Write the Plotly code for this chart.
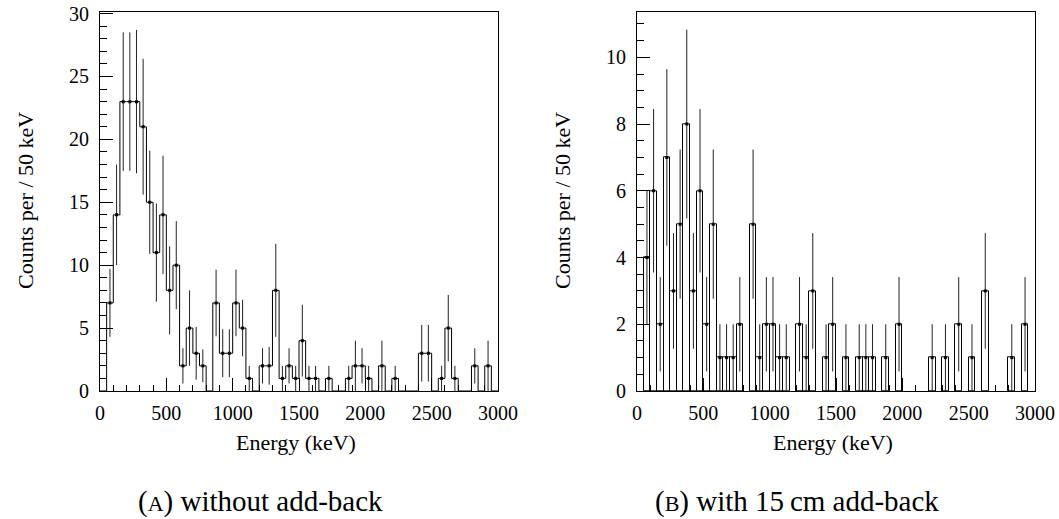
import numpy as np
import plotly.graph_objects as go

# ---------------- data (50 keV bins from 0 to 3000 keV) ----------------
bin_width = 50
n_bins = 60

# (A) without add-back: counts per bin
counts_a = [0, 7, 14, 23, 23, 23, 21, 15, 11, 14,
            8, 10, 2, 5, 3, 2, 0, 7, 3, 3,
            7, 5, 1, 0, 2, 2, 8, 1, 2, 1,
            4, 1, 1, 0, 1, 0, 0, 1, 2, 2,
            1, 0, 2, 0, 1, 0, 0, 0, 3, 3,
            0, 1, 5, 1, 0, 0, 2, 0, 2, 0]
# (A) error bar half-lengths
errors_a = [0, 2.7, 4.0, 5.5, 5.5, 5.7, 5.4, 4.1, 3.9, 4.7,
            3.5, 3.5, 1.4, 3.0, 2.1, 1.3, 0, 2.65, 1.9, 1.9,
            2.65, 2.25, 1.0, 0, 1.4, 1.5, 3.7, 1.0, 1.4, 1.0,
            2.85, 1.0, 1.0, 0, 1.0, 0, 0, 1.0, 2.0, 1.4,
            1.0, 0, 2.0, 0, 1.0, 0, 0, 0, 2.25, 2.25,
            0, 1.0, 2.64, 1.0, 0, 0, 1.4, 0, 2.0, 0]

# (B) with 15 cm add-back: counts per bin
counts_b = [0, 4, 6, 2, 7, 3, 5, 8, 3, 6,
            2, 5, 1, 1, 1, 2, 0, 5, 1, 2,
            2, 1, 1, 0, 2, 1, 3, 0, 1, 2,
            0, 1, 0, 1, 1, 1, 0, 1, 0, 2,
            0, 0, 0, 0, 1, 0, 1, 0, 2, 0,
            1, 0, 3, 0, 0, 0, 1, 0, 2, 0]

x_tick_vals = [0, 500, 1000, 1500, 2000, 2500, 3000]
x_title = "Energy (keV)"
y_title = "Counts per / 50 keV"
caption_a = "(<span style='font-size:22px'>A</span>) without add-back"
caption_b = "(<span style='font-size:22px'>B</span>) with 15\u2009cm add-back"

# ---------------- derived ----------------
edges = np.arange(n_bins + 1) * bin_width
centers = edges[:-1] + bin_width / 2
counts_a = np.array(counts_a, dtype=float)
counts_b = np.array(counts_b, dtype=float)
errors_a = np.array(errors_a, dtype=float)
errors_b = np.sqrt(counts_b)

W, H = 1059, 519
FONT = "Liberation Serif, DejaVu Serif, Times New Roman, serif"

def px(v):
    return v / W

def py(v):
    return (H - v) / H

fig = go.Figure()

# (A) step histogram
fig.add_trace(go.Scatter(
    x=edges, y=np.append(counts_a, counts_a[-1]),
    mode="lines", line=dict(color="black", width=1, shape="hv"),
    xaxis="x", yaxis="y", showlegend=False, hoverinfo="skip"))
mask_a = counts_a > 0
fig.add_trace(go.Scatter(
    x=centers[mask_a], y=counts_a[mask_a], mode="markers",
    marker=dict(color="black", size=3, symbol="square"),
    error_y=dict(type="data", array=errors_a[mask_a], visible=True,
                 thickness=1, width=0, color="#222222"),
    xaxis="x", yaxis="y", showlegend=False))

# (B) bar-style histogram (empty bins not drawn)
mask_b = counts_b > 0
fig.add_trace(go.Bar(
    x=centers[mask_b], y=counts_b[mask_b], width=bin_width,
    marker=dict(color="rgba(0,0,0,0)", line=dict(color="black", width=1)),
    xaxis="x2", yaxis="y2", showlegend=False))
fig.add_trace(go.Scatter(
    x=centers[mask_b], y=counts_b[mask_b], mode="markers",
    marker=dict(color="black", size=3, symbol="square"),
    error_y=dict(type="data", array=errors_b[mask_b], visible=True,
                 thickness=1, width=0, color="#222222"),
    xaxis="x2", yaxis="y2", showlegend=False))

tickfont = dict(family=FONT, size=20, color="black")
common_x = dict(range=[0, 3000], tickvals=x_tick_vals, ticks="inside", ticklen=13,
                tickwidth=1, tickcolor="black", showline=True, linecolor="black",
                linewidth=1, mirror=True, showgrid=False, zeroline=False,
                tickfont=tickfont, ticklabelstandoff=4, automargin=False,
                minor=dict(ticks="inside", ticklen=6, dtick=100, tick0=0,
                           tickcolor="black", showgrid=False))
common_y = dict(ticks="inside", ticklen=13, tickwidth=1, tickcolor="black",
                showline=True, linecolor="black", linewidth=1, mirror=True,
                showgrid=False, zeroline=False, tickfont=tickfont,
                ticklabelstandoff=6, automargin=False)

ydom = [py(391), py(12.3)]
fig.update_layout(
    width=W, height=H, margin=dict(l=0, r=0, t=0, b=0, pad=0),
    paper_bgcolor="white", plot_bgcolor="white",
    bargap=0, barmode="overlay",
    font=dict(family=FONT, color="black"),
    xaxis=dict(domain=[px(100), px(498)], anchor="y", **common_x),
    yaxis=dict(domain=ydom, anchor="x", range=[0, 30.1], dtick=5, tick0=0,
               minor=dict(ticks="inside", ticklen=7, dtick=1, tick0=0,
                          tickcolor="black", showgrid=False), **common_y),
    xaxis2=dict(domain=[px(637), px(1035)], anchor="y2", **common_x),
    yaxis2=dict(domain=ydom, anchor="x2", range=[0, 11.35], dtick=2, tick0=0,
                minor=dict(ticks="inside", ticklen=7, dtick=0.5, tick0=0,
                           tickcolor="black", showgrid=False), **common_y),
)

ann_font = dict(family=FONT, size=22, color="black")
cap_font = dict(family=FONT, size=29, color="black")
annotations = [
    dict(text=x_title, x=px(296), y=py(442), xref="paper", yref="paper",
         showarrow=False, font=ann_font, xanchor="center", yanchor="middle"),
    dict(text=x_title, x=px(833), y=py(442), xref="paper", yref="paper",
         showarrow=False, font=ann_font, xanchor="center", yanchor="middle"),
    dict(text=y_title, x=px(25), y=py(201), xref="paper", yref="paper",
         showarrow=False, font=ann_font, textangle=-90,
         xanchor="center", yanchor="middle"),
    dict(text=y_title, x=px(562), y=py(201), xref="paper", yref="paper",
         showarrow=False, font=ann_font, textangle=-90,
         xanchor="center", yanchor="middle"),
    dict(text=caption_a, x=px(260), y=py(501), xref="paper", yref="paper",
         showarrow=False, font=cap_font, xanchor="center", yanchor="middle"),
    dict(text=caption_b, x=px(797), y=py(501), xref="paper", yref="paper",
         showarrow=False, font=cap_font, xanchor="center", yanchor="middle"),
]
fig.update_layout(annotations=annotations)

fig.write_html("out.html",
               config={"displayModeBar": False},
               post_script="document.body.style.margin='0';"
                           "document.body.style.overflow='hidden';")
